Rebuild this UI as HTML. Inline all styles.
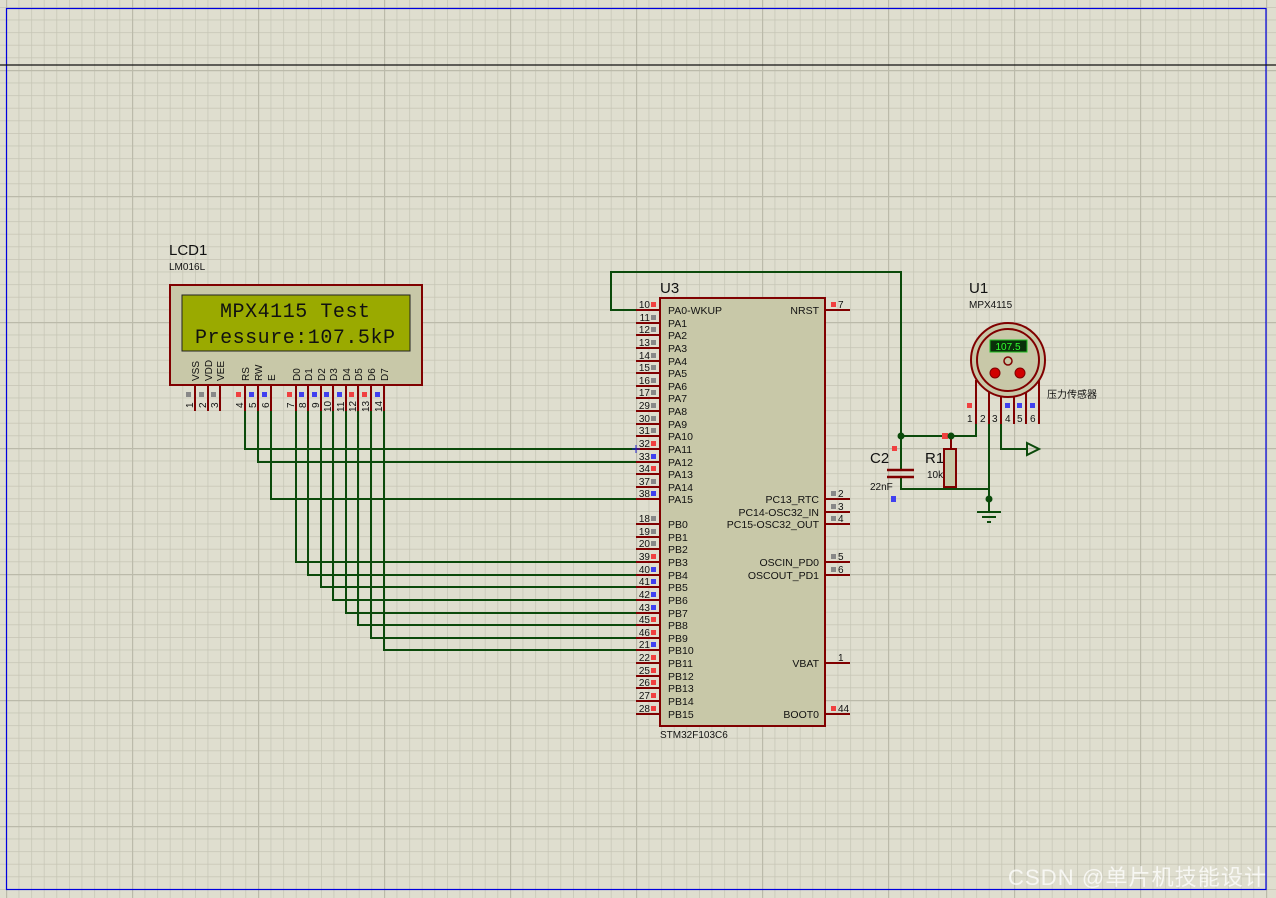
<!DOCTYPE html>
<html><head><meta charset="utf-8"><style>
html,body{margin:0;padding:0;background:#dfdecf;}
svg{display:block;}
text{font-family:"Liberation Sans","Noto Sans CJK SC",sans-serif;}
text.mono{font-family:"Liberation Mono","DejaVu Sans Mono",monospace;}
</style></head><body>
<svg width="1276" height="898" viewBox="0 0 1276 898" xmlns="http://www.w3.org/2000/svg">
<defs>
<pattern id="mn" x="6" y="7" width="12.6" height="12.6" patternUnits="userSpaceOnUse">
<path d="M0 0H12.6M0 0V12.6" stroke="#c5c4b4" stroke-width="1.4" fill="none"/>
</pattern>
<pattern id="mj" x="6" y="70" width="126" height="126" patternUnits="userSpaceOnUse">
<path d="M0 0H126M0 0V126" stroke="#bbbaaa" stroke-width="2.4" fill="none"/>
</pattern>
</defs>
<rect width="1276" height="898" fill="#dfdecf"/>
<rect width="1276" height="898" fill="url(#mn)"/>
<rect width="1276" height="898" fill="url(#mj)"/>
<rect x="6.5" y="8.5" width="1259.5" height="881" fill="none" stroke="#0000e0" stroke-width="1.2"/>
<line x1="0" y1="65" x2="1276" y2="65" stroke="#101010" stroke-width="1.2"/>

<!-- LCD -->
<text x="169" y="255" font-size="15" fill="#111">LCD1</text>
<text x="169" y="270" font-size="10" fill="#111">LM016L</text>
<rect x="170" y="285" width="252" height="100" fill="#c8c8a8" stroke="#800000" stroke-width="2"/>
<rect x="182" y="295" width="228" height="56" fill="#9aaa00" stroke="#222" stroke-width="1"/>
<text class="mono" x="295" y="317" font-size="20" text-anchor="middle" fill="#111" textLength="150">MPX4115 Test</text>
<text class="mono" x="295" y="343" font-size="20" text-anchor="middle" fill="#111" textLength="200">Pressure:107.5kP</text>
<g font-size="10" fill="#111">
<text transform="translate(199,381) rotate(-90)">VSS</text>
<text transform="translate(212,381) rotate(-90)">VDD</text>
<text transform="translate(224,381) rotate(-90)">VEE</text>
<text transform="translate(249,381) rotate(-90)">RS</text>
<text transform="translate(262,381) rotate(-90)">RW</text>
<text transform="translate(275,381) rotate(-90)">E</text>
<text transform="translate(300,381) rotate(-90)">D0</text>
<text transform="translate(312,381) rotate(-90)">D1</text>
<text transform="translate(325,381) rotate(-90)">D2</text>
<text transform="translate(337,381) rotate(-90)">D3</text>
<text transform="translate(350,381) rotate(-90)">D4</text>
<text transform="translate(362,381) rotate(-90)">D5</text>
<text transform="translate(375,381) rotate(-90)">D6</text>
<text transform="translate(388,381) rotate(-90)">D7</text>
</g>
<g stroke="#800000" stroke-width="2">
<line x1="195" y1="385" x2="195" y2="411"/><line x1="208" y1="385" x2="208" y2="411"/><line x1="220" y1="385" x2="220" y2="411"/>
<line x1="245" y1="385" x2="245" y2="411"/><line x1="258" y1="385" x2="258" y2="411"/><line x1="271" y1="385" x2="271" y2="411"/>
<line x1="296" y1="385" x2="296" y2="411"/><line x1="308" y1="385" x2="308" y2="411"/><line x1="321" y1="385" x2="321" y2="411"/>
<line x1="333" y1="385" x2="333" y2="411"/><line x1="346" y1="385" x2="346" y2="411"/><line x1="358" y1="385" x2="358" y2="411"/>
<line x1="371" y1="385" x2="371" y2="411"/><line x1="384" y1="385" x2="384" y2="411"/>
</g>
<g>
<rect x="186" y="392" width="5" height="5" fill="#888"/><rect x="199" y="392" width="5" height="5" fill="#888"/><rect x="211" y="392" width="5" height="5" fill="#888"/>
<rect x="236" y="392" width="5" height="5" fill="#f04040"/><rect x="249" y="392" width="5" height="5" fill="#4040f0"/><rect x="262" y="392" width="5" height="5" fill="#4040f0"/>
<rect x="287" y="392" width="5" height="5" fill="#f04040"/><rect x="299" y="392" width="5" height="5" fill="#4040f0"/><rect x="312" y="392" width="5" height="5" fill="#4040f0"/>
<rect x="324" y="392" width="5" height="5" fill="#4040f0"/><rect x="337" y="392" width="5" height="5" fill="#4040f0"/><rect x="349" y="392" width="5" height="5" fill="#f04040"/>
<rect x="362" y="392" width="5" height="5" fill="#f04040"/><rect x="375" y="392" width="5" height="5" fill="#4040f0"/>
</g>
<g font-size="10" fill="#111">
<text transform="translate(193,408) rotate(-90)">1</text><text transform="translate(206,408) rotate(-90)">2</text><text transform="translate(218,408) rotate(-90)">3</text>
<text transform="translate(243,408) rotate(-90)">4</text><text transform="translate(256,408) rotate(-90)">5</text><text transform="translate(269,408) rotate(-90)">6</text>
<text transform="translate(294,408) rotate(-90)">7</text><text transform="translate(306,408) rotate(-90)">8</text><text transform="translate(319,408) rotate(-90)">9</text>
<text transform="translate(331,412) rotate(-90)">10</text><text transform="translate(344,412) rotate(-90)">11</text><text transform="translate(356,412) rotate(-90)">12</text>
<text transform="translate(369,412) rotate(-90)">13</text><text transform="translate(382,412) rotate(-90)">14</text>
</g>

<!-- wires -->
<g stroke="#0b4a0b" stroke-width="2" fill="none">
<polyline points="245,411 245,449 636,449"/>
<polyline points="258,411 258,462 636,462"/>
<polyline points="271,411 271,499 636,499"/>
<polyline points="296,411 296,562 636,562"/>
<polyline points="308,411 308,575 636,575"/>
<polyline points="321,411 321,587 636,587"/>
<polyline points="333,411 333,600 636,600"/>
<polyline points="346,411 346,613 636,613"/>
<polyline points="358,411 358,625 636,625"/>
<polyline points="371,411 371,638 636,638"/>
<polyline points="384,411 384,650 636,650"/>
<polyline points="636,310 611,310 611,272 901,272 901,436 951,436"/>
<polyline points="951,436 976,436 976,424"/>
<polyline points="901,436 901,470"/>
<polyline points="901,476 901,489 989,489"/>
<polyline points="951,436 951,449"/>
<polyline points="951,487 951,489"/>
<polyline points="989,424 989,512"/>
<polyline points="1001,424 1001,449 1027,449"/>
</g>

<!-- MCU -->
<text x="660" y="293" font-size="15" fill="#111">U3</text>
<rect x="660" y="298" width="165" height="428" fill="#c8c8a8" stroke="#800000" stroke-width="2"/>
<text x="660" y="738" font-size="10" fill="#111">STM32F103C6</text>
<g stroke="#800000" stroke-width="2">
<line x1="636" y1="310" x2="660" y2="310"/><line x1="636" y1="323" x2="660" y2="323"/><line x1="636" y1="335" x2="660" y2="335"/><line x1="636" y1="348" x2="660" y2="348"/>
<line x1="636" y1="361" x2="660" y2="361"/><line x1="636" y1="373" x2="660" y2="373"/><line x1="636" y1="386" x2="660" y2="386"/><line x1="636" y1="398" x2="660" y2="398"/>
<line x1="636" y1="411" x2="660" y2="411"/><line x1="636" y1="424" x2="660" y2="424"/><line x1="636" y1="436" x2="660" y2="436"/><line x1="636" y1="449" x2="660" y2="449"/>
<line x1="636" y1="462" x2="660" y2="462"/><line x1="636" y1="474" x2="660" y2="474"/><line x1="636" y1="487" x2="660" y2="487"/><line x1="636" y1="499" x2="660" y2="499"/>
<line x1="636" y1="524" x2="660" y2="524"/><line x1="636" y1="537" x2="660" y2="537"/><line x1="636" y1="549" x2="660" y2="549"/><line x1="636" y1="562" x2="660" y2="562"/>
<line x1="636" y1="575" x2="660" y2="575"/><line x1="636" y1="587" x2="660" y2="587"/><line x1="636" y1="600" x2="660" y2="600"/><line x1="636" y1="613" x2="660" y2="613"/>
<line x1="636" y1="625" x2="660" y2="625"/><line x1="636" y1="638" x2="660" y2="638"/><line x1="636" y1="650" x2="660" y2="650"/><line x1="636" y1="663" x2="660" y2="663"/>
<line x1="636" y1="676" x2="660" y2="676"/><line x1="636" y1="688" x2="660" y2="688"/><line x1="636" y1="701" x2="660" y2="701"/><line x1="636" y1="714" x2="660" y2="714"/>
<line x1="825" y1="310" x2="850" y2="310"/><line x1="825" y1="499" x2="850" y2="499"/><line x1="825" y1="512" x2="850" y2="512"/><line x1="825" y1="524" x2="850" y2="524"/>
<line x1="825" y1="562" x2="850" y2="562"/><line x1="825" y1="575" x2="850" y2="575"/><line x1="825" y1="663" x2="850" y2="663"/><line x1="825" y1="714" x2="850" y2="714"/>
</g>
<g font-size="10" fill="#111" text-anchor="end">
<text x="650" y="308">10</text><text x="650" y="321">11</text><text x="650" y="333">12</text><text x="650" y="346">13</text>
<text x="650" y="359">14</text><text x="650" y="371">15</text><text x="650" y="384">16</text><text x="650" y="396">17</text>
<text x="650" y="409">29</text><text x="650" y="422">30</text><text x="650" y="434">31</text><text x="650" y="447">32</text>
<text x="650" y="460">33</text><text x="650" y="472">34</text><text x="650" y="485">37</text><text x="650" y="497">38</text>
<text x="650" y="522">18</text><text x="650" y="535">19</text><text x="650" y="547">20</text><text x="650" y="560">39</text>
<text x="650" y="573">40</text><text x="650" y="585">41</text><text x="650" y="598">42</text><text x="650" y="611">43</text>
<text x="650" y="623">45</text><text x="650" y="636">46</text><text x="650" y="648">21</text><text x="650" y="661">22</text>
<text x="650" y="674">25</text><text x="650" y="686">26</text><text x="650" y="699">27</text><text x="650" y="712">28</text>
</g>
<g>
<rect x="651" y="302" width="5" height="5" fill="#f04040"/><rect x="651" y="315" width="5" height="5" fill="#888"/><rect x="651" y="327" width="5" height="5" fill="#888"/><rect x="651" y="340" width="5" height="5" fill="#888"/>
<rect x="651" y="353" width="5" height="5" fill="#888"/><rect x="651" y="365" width="5" height="5" fill="#888"/><rect x="651" y="378" width="5" height="5" fill="#888"/><rect x="651" y="390" width="5" height="5" fill="#888"/>
<rect x="651" y="403" width="5" height="5" fill="#888"/><rect x="651" y="416" width="5" height="5" fill="#888"/><rect x="651" y="428" width="5" height="5" fill="#888"/><rect x="651" y="441" width="5" height="5" fill="#f04040"/>
<rect x="651" y="454" width="5" height="5" fill="#4040f0"/><rect x="651" y="466" width="5" height="5" fill="#f04040"/><rect x="651" y="479" width="5" height="5" fill="#888"/><rect x="651" y="491" width="5" height="5" fill="#4040f0"/>
<rect x="651" y="516" width="5" height="5" fill="#888"/><rect x="651" y="529" width="5" height="5" fill="#888"/><rect x="651" y="541" width="5" height="5" fill="#888"/><rect x="651" y="554" width="5" height="5" fill="#f04040"/>
<rect x="651" y="567" width="5" height="5" fill="#4040f0"/><rect x="651" y="579" width="5" height="5" fill="#4040f0"/><rect x="651" y="592" width="5" height="5" fill="#4040f0"/><rect x="651" y="605" width="5" height="5" fill="#4040f0"/>
<rect x="651" y="617" width="5" height="5" fill="#f04040"/><rect x="651" y="630" width="5" height="5" fill="#f04040"/><rect x="651" y="642" width="5" height="5" fill="#4040f0"/><rect x="651" y="655" width="5" height="5" fill="#f04040"/>
<rect x="651" y="668" width="5" height="5" fill="#f04040"/><rect x="651" y="680" width="5" height="5" fill="#f04040"/><rect x="651" y="693" width="5" height="5" fill="#f04040"/><rect x="651" y="706" width="5" height="5" fill="#f04040"/>
<rect x="831" y="302" width="5" height="5" fill="#f04040"/><rect x="831" y="491" width="5" height="5" fill="#888"/><rect x="831" y="504" width="5" height="5" fill="#888"/><rect x="831" y="516" width="5" height="5" fill="#888"/>
<rect x="831" y="554" width="5" height="5" fill="#888"/><rect x="831" y="567" width="5" height="5" fill="#888"/><rect x="831" y="706" width="5" height="5" fill="#f04040"/>
</g>
<g font-size="10" fill="#111">
<text x="838" y="308">7</text><text x="838" y="497">2</text><text x="838" y="510">3</text><text x="838" y="522">4</text>
<text x="838" y="560">5</text><text x="838" y="573">6</text><text x="838" y="661">1</text><text x="838" y="712">44</text>
</g>
<g font-size="10.5" fill="#111">
<text x="668" y="314">PA0-WKUP</text><text x="668" y="327">PA1</text><text x="668" y="339">PA2</text><text x="668" y="352">PA3</text>
<text x="668" y="365">PA4</text><text x="668" y="377">PA5</text><text x="668" y="390">PA6</text><text x="668" y="402">PA7</text>
<text x="668" y="415">PA8</text><text x="668" y="428">PA9</text><text x="668" y="440">PA10</text><text x="668" y="453">PA11</text>
<text x="668" y="466">PA12</text><text x="668" y="478">PA13</text><text x="668" y="491">PA14</text><text x="668" y="503">PA15</text>
<text x="668" y="528">PB0</text><text x="668" y="541">PB1</text><text x="668" y="553">PB2</text><text x="668" y="566">PB3</text>
<text x="668" y="579">PB4</text><text x="668" y="591">PB5</text><text x="668" y="604">PB6</text><text x="668" y="617">PB7</text>
<text x="668" y="629">PB8</text><text x="668" y="642">PB9</text><text x="668" y="654">PB10</text><text x="668" y="667">PB11</text>
<text x="668" y="680">PB12</text><text x="668" y="692">PB13</text><text x="668" y="705">PB14</text><text x="668" y="718">PB15</text>
</g>
<g font-size="10.5" fill="#111" text-anchor="end">
<text x="819" y="314">NRST</text><text x="819" y="503">PC13_RTC</text><text x="819" y="516">PC14-OSC32_IN</text><text x="819" y="528">PC15-OSC32_OUT</text>
<text x="819" y="566">OSCIN_PD0</text><text x="819" y="579">OSCOUT_PD1</text><text x="819" y="667">VBAT</text><text x="819" y="718">BOOT0</text>
</g>
<path d="M632 449h8M636 445v8" stroke="#2020d0" stroke-width="1"/>

<!-- C2 -->
<text x="870" y="463" font-size="15" fill="#111">C2</text>
<text x="870" y="490" font-size="10" fill="#111">22nF</text>
<rect x="892" y="446" width="5" height="5" fill="#f04040"/>
<rect x="891" y="496" width="5" height="6" fill="#4040f0"/>
<g stroke="#800000" stroke-width="2.5"><line x1="887" y1="470" x2="914" y2="470"/><line x1="887" y1="477" x2="914" y2="477"/></g>
<!-- R1 -->
<text x="925" y="463" font-size="15" fill="#111">R1</text>
<text x="927" y="478" font-size="10" fill="#111">10k</text>
<rect x="944" y="449" width="12" height="38" fill="#c8c8a8" stroke="#800000" stroke-width="2"/>
<line x1="951" y1="436" x2="951" y2="449" stroke="#800000" stroke-width="2"/>
<rect x="942" y="433" width="6" height="6" fill="#f04040"/>
<g fill="#0b4a0b"><circle cx="901" cy="436" r="3.5"/><circle cx="951" cy="436" r="3.5"/><circle cx="989" cy="499" r="3.5"/></g>
<g stroke="#0b4a0b" stroke-width="2"><line x1="977" y1="512" x2="1001" y2="512"/><line x1="982" y1="517" x2="996" y2="517"/><line x1="987" y1="522" x2="991" y2="522"/></g>
<polygon points="1027,443 1039,449 1027,455" fill="none" stroke="#0b4a0b" stroke-width="2"/>

<!-- U1 sensor -->
<text x="969" y="293" font-size="15" fill="#111">U1</text>
<text x="969" y="308" font-size="10" fill="#111">MPX4115</text>
<g stroke="#800000" stroke-width="2">
<line x1="976" y1="380" x2="976" y2="424"/><line x1="989" y1="392" x2="989" y2="424"/><line x1="1001" y1="396" x2="1001" y2="424"/>
<line x1="1014" y1="396" x2="1014" y2="424"/><line x1="1026" y1="392" x2="1026" y2="424"/><line x1="1039" y1="380" x2="1039" y2="424"/>
</g>
<circle cx="1008" cy="360" r="37" fill="#c8c8a8" stroke="#800000" stroke-width="2"/>
<circle cx="1008" cy="360" r="31" fill="#c8c8a8" stroke="#800000" stroke-width="2"/>
<rect x="990" y="340" width="37" height="12" fill="#0a300a" stroke="#20c020" stroke-width="1"/>
<text x="1008" y="350" font-size="10" fill="#30ff30" text-anchor="middle">107.5</text>
<circle cx="1008" cy="361" r="4" fill="none" stroke="#800000" stroke-width="1.5"/>
<circle cx="995" cy="373" r="5" fill="#d00000" stroke="#800000"/>
<circle cx="1020" cy="373" r="5" fill="#d00000" stroke="#800000"/>
<text x="1047" y="398" font-size="10" fill="#111">压力传感器</text>
<rect x="967" y="403" width="5" height="5" fill="#f04040"/>
<rect x="1005" y="403" width="5" height="5" fill="#4040f0"/><rect x="1017" y="403" width="5" height="5" fill="#4040f0"/><rect x="1030" y="403" width="5" height="5" fill="#4040f0"/>
<g font-size="10" fill="#111"><text x="967" y="422">1</text><text x="980" y="422">2</text><text x="992" y="422">3</text><text x="1005" y="422">4</text><text x="1017" y="422">5</text><text x="1030" y="422">6</text></g>

<text x="1008" y="885" font-size="22" fill="#ffffff" fill-opacity="0.75" textLength="258">CSDN @单片机技能设计</text>
</svg>
</body></html>
